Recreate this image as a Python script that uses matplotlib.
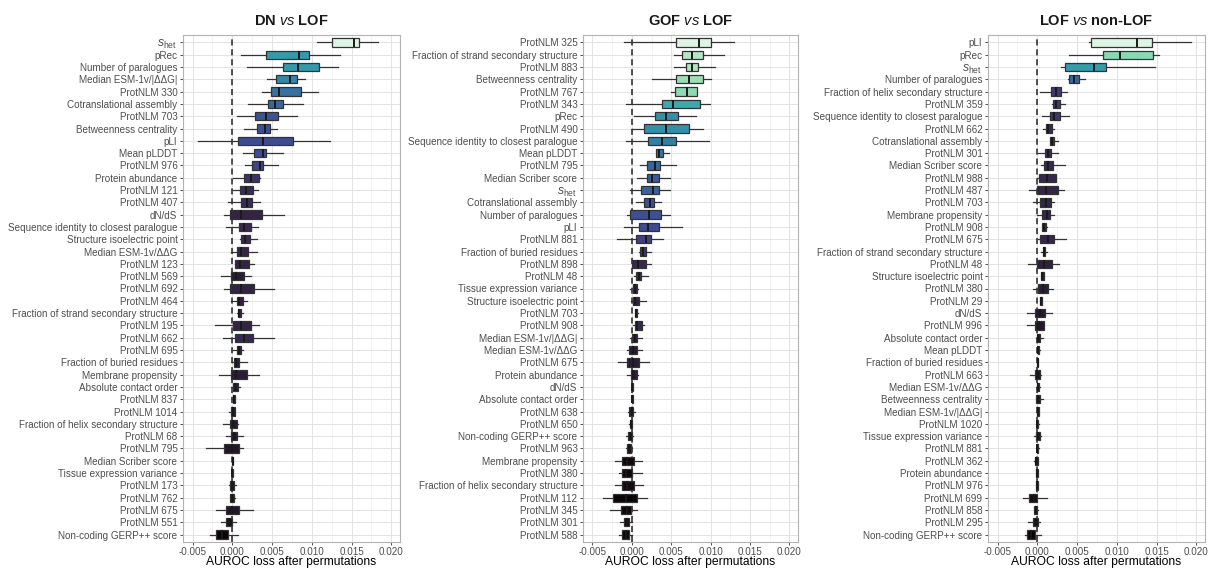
import matplotlib
matplotlib.use("Agg")
import matplotlib.pyplot as plt
import numpy as np
import seaborn as sns

plt.rcParams["font.family"] = ["Liberation Sans", "DejaVu Sans"]
plt.rcParams["mathtext.fontset"] = "custom"
plt.rcParams["mathtext.rm"] = "Liberation Sans"
plt.rcParams["mathtext.it"] = "Liberation Sans:italic"
plt.rcParams["mathtext.bf"] = "Liberation Sans:bold"
plt.rcParams["axes.unicode_minus"] = False

SHET = r"$s_{\mathrm{het}}$"

# values below are AUROC loss in units of 1e-3
# ---------------- DN vs LOF ----------------
labels_dn = [SHET, "pRec", "Number of paralogues", "Median ESM-1v/|ΔΔG|", "ProtNLM 330",
             "Cotranslational assembly", "ProtNLM 703", "Betweenness centrality", "pLI", "Mean pLDDT",
             "ProtNLM 976", "Protein abundance", "ProtNLM 121", "ProtNLM 407", "dN/dS",
             "Sequence identity to closest paralogue", "Structure isoelectric point", "Median ESM-1v/ΔΔG",
             "ProtNLM 123", "ProtNLM 569", "ProtNLM 692", "ProtNLM 464",
             "Fraction of strand secondary structure", "ProtNLM 195", "ProtNLM 662", "ProtNLM 695",
             "Fraction of buried residues", "Membrane propensity", "Absolute contact order", "ProtNLM 837",
             "ProtNLM 1014", "Fraction of helix secondary structure", "ProtNLM 68", "ProtNLM 795",
             "Median Scriber score", "Tissue expression variance", "ProtNLM 173", "ProtNLM 762",
             "ProtNLM 675", "ProtNLM 551", "Non-coding GERP++ score"]
dn_lo = [10.6, 1.1, 1.8, 4.4, 3.8, 2.0, 0.6, 1.5, -4.3, 1.35, 1.6, 0.1, 0.1, -0.5, -1.1, -0.8, 1.0, -0.2,
         0.3, -1.4, -1.1, -0.2, 0.6, -2.2, -1.2, 0.0, 0.0, -1.7, -0.1, 0.0, -0.45, -1.2, -0.8, -3.3,
         -0.05, -0.05, -0.4, -0.35, -2.0, -1.4, -2.85]
dn_q1 = [12.6, 4.3, 6.4, 5.55, 4.9, 4.45, 2.85, 3.05, 0.7, 2.7, 2.5, 1.5, 1.0, 1.15, -0.25, 0.8, 1.1, 0.65,
         0.35, -0.15, -0.3, 0.6, 0.7, 0.1, 0.35, 0.65, 0.25, -0.15, 0.1, 0.05, -0.1, -0.3, -0.15, -1.05,
         -0.02, -0.03, -0.3, -0.3, -0.8, -0.85, -2.1]
dn_med = [15.25, 8.4, 8.3, 7.2, 5.9, 5.4, 4.3, 4.1, 3.9, 3.9, 3.5, 2.3, 1.7, 1.8, 1.05, 1.5, 1.6, 1.15,
          1.0, 0.45, 1.05, 0.9, 0.9, 1.05, 1.5, 0.9, 0.5, 0.45, 0.35, 0.2, 0.1, 0.1, 0.2, 0.0,
          0.03, 0.0, 0.0, 0.0, 0.0, -0.45, -1.3]
dn_q3 = [16.0, 9.6, 10.9, 8.2, 8.7, 6.4, 5.8, 4.8, 7.6, 4.3, 3.9, 3.3, 2.6, 2.45, 3.8, 2.4, 2.2, 1.95,
         2.15, 1.5, 2.75, 1.35, 1.15, 2.3, 2.6, 1.15, 0.9, 1.85, 0.7, 0.35, 0.35, 0.55, 0.6, 0.85,
         0.08, 0.05, 0.2, 0.2, 0.85, 0.0, -0.6]
dn_hi = [18.3, 13.6, 13.3, 9.2, 10.8, 8.9, 8.1, 5.6, 12.3, 6.4, 5.8, 3.5, 3.2, 3.5, 6.5, 3.2, 3.05, 3.1,
         2.7, 2.3, 5.2, 1.8, 1.35, 3.4, 5.3, 1.4, 1.8, 3.3, 0.95, 0.4, 0.4, 0.7, 1.3, 1.4,
         0.12, 0.08, 0.45, 0.3, 2.6, 0.45, 0.7]

# ---------------- GOF vs LOF ----------------
labels_gof = ["ProtNLM 325", "Fraction of strand secondary structure", "ProtNLM 883", "Betweenness centrality",
              "ProtNLM 767", "ProtNLM 343", "pRec", "ProtNLM 490", "Sequence identity to closest paralogue",
              "Mean pLDDT", "ProtNLM 795", "Median Scriber score", SHET, "Cotranslational assembly",
              "Number of paralogues", "pLI", "ProtNLM 881", "Fraction of buried residues", "ProtNLM 898",
              "ProtNLM 48", "Tissue expression variance", "Structure isoelectric point", "ProtNLM 703",
              "ProtNLM 908", "Median ESM-1v/|ΔΔG|", "Median ESM-1v/ΔΔG", "ProtNLM 675", "Protein abundance",
              "dN/dS", "Absolute contact order", "ProtNLM 638", "ProtNLM 650", "Non-coding GERP++ score",
              "ProtNLM 963", "Membrane propensity", "ProtNLM 380", "Fraction of helix secondary structure",
              "ProtNLM 112", "ProtNLM 345", "ProtNLM 301", "ProtNLM 588"]
gof_lo = [-1.0, 5.35, 5.4, 2.5, 5.0, -0.75, 0.3, 0.05, -0.75, 3.1, 1.1, 0.6, -0.25, 0.55, -0.65, -1.0,
          -1.85, 0.9, 0.0, 0.3, -0.25, -0.15, 0.35, 0.2, -0.25, -0.6, -1.8, -0.6, -0.02, 0.0, -0.45,
          -0.3, -0.7, -0.7, -2.1, -1.6, -2.1, -3.7, -2.8, -1.55, -1.6]
gof_q1 = [5.55, 6.4, 6.9, 5.55, 5.5, 3.8, 3.0, 1.6, 2.1, 3.1, 1.95, 1.9, 1.2, 1.55, -0.25, 0.9,
          0.55, 1.1, 0.0, 0.5, 0.2, 0.15, 0.4, 0.35, 0.05, -0.3, -0.55, -0.1, 0.0, 0.02, -0.3,
          -0.25, -0.45, -0.55, -1.3, -1.25, -1.2, -2.35, -1.35, -0.95, -1.25]
gof_med = [8.5, 7.7, 7.6, 7.3, 7.05, 5.2, 4.3, 4.3, 3.8, 3.5, 2.9, 2.6, 2.75, 2.25, 2.2, 2.1,
           1.75, 1.4, 0.75, 0.85, 0.4, 0.45, 0.55, 0.7, 0.35, 0.1, 0.2, 0.2, 0.05, 0.08, 0.0,
           -0.15, -0.2, -0.35, -0.65, -0.7, -0.55, -0.8, -0.65, -0.65, -0.8]
gof_q3 = [10.1, 9.0, 8.45, 9.0, 8.3, 8.7, 5.8, 7.2, 5.65, 3.9, 3.55, 3.4, 3.4, 2.85, 3.75, 3.4,
          2.45, 1.75, 1.75, 1.2, 0.7, 0.9, 0.7, 1.35, 0.7, 0.65, 0.9, 0.7, 0.1, 0.12, 0.2,
          0.0, 0.05, -0.1, 0.25, 0.05, 0.3, 0.7, -0.1, -0.3, -0.3]
gof_hi = [13.0, 11.7, 10.6, 10.1, 8.3, 9.9, 8.1, 9.0, 9.8, 4.7, 5.65, 4.9, 4.9, 3.75, 4.8, 6.4,
          3.95, 2.4, 2.4, 2.0, 0.75, 1.75, 0.75, 1.5, 1.35, 1.25, 2.2, 0.8, 0.12, 0.15, 0.4,
          0.05, 0.2, 0.05, 1.25, 1.3, 1.4, 1.9, 0.65, 0.05, 0.05]

# ---------------- LOF vs non-LOF ----------------
labels_lof = ["pLI", "pRec", SHET, "Number of paralogues", "Fraction of helix secondary structure",
              "ProtNLM 359", "Sequence identity to closest paralogue", "ProtNLM 662", "Cotranslational assembly",
              "ProtNLM 301", "Median Scriber score", "ProtNLM 988", "ProtNLM 487", "ProtNLM 703",
              "Membrane propensity", "ProtNLM 908", "ProtNLM 675", "Fraction of strand secondary structure",
              "ProtNLM 48", "Structure isoelectric point", "ProtNLM 380", "ProtNLM 29", "dN/dS",
              "ProtNLM 996", "Absolute contact order", "Mean pLDDT", "Fraction of buried residues",
              "ProtNLM 663", "Median ESM-1v/ΔΔG", "Betweenness centrality", "Median ESM-1v/|ΔΔG|",
              "ProtNLM 1020", "Tissue expression variance", "ProtNLM 881", "ProtNLM 362", "Protein abundance",
              "ProtNLM 976", "ProtNLM 699", "ProtNLM 858", "ProtNLM 295", "Non-coding GERP++ score"]
lof_lo = [6.5, 4.05, 3.0, 3.9, 0.3, 1.9, 0.65, 0.75, 1.55, 0.1, 0.45, 0.0, -1.0, -0.5, 0.0, 0.6,
          0.1, 0.5, -1.2, 0.45, -0.55, 0.35, -1.25, -1.35, -0.1, 0.0, -0.05, -0.95, -0.1, -0.1,
          -0.1, -0.1, -0.45, -0.1, -0.4, -0.15, -0.15, -1.75, -0.45, -1.2, -1.6]
lof_q1 = [6.7, 8.25, 3.5, 4.0, 1.75, 2.0, 1.55, 1.05, 1.55, 1.0, 0.85, 0.2, -0.05, 0.4, 0.6, 0.65,
          0.4, 0.7, 0.0, 0.5, 0.15, 0.35, -0.25, -0.3, 0.0, 0.03, 0.0, -0.3, -0.05, -0.1,
          -0.08, -0.08, -0.15, -0.08, -0.25, -0.1, -0.1, -1.0, -0.4, -0.55, -1.25]
lof_med = [12.6, 10.45, 7.15, 4.65, 2.4, 2.4, 2.15, 1.4, 1.8, 1.3, 1.4, 1.25, 1.15, 1.1, 1.2, 0.9,
           1.3, 0.85, 0.85, 0.65, 0.75, 0.45, 0.35, 0.25, 0.15, 0.1, 0.03, 0.0, 0.1, 0.1,
           0.05, 0.0, 0.05, 0.0, -0.1, 0.0, 0.0, -0.4, -0.15, -0.2, -0.85]
lof_q3 = [14.4, 14.6, 8.65, 5.2, 3.0, 2.9, 2.8, 1.85, 2.05, 1.75, 2.0, 2.3, 2.55, 1.7, 1.6, 1.15,
          2.1, 1.0, 1.8, 0.85, 1.35, 0.6, 0.95, 0.85, 0.4, 0.25, 0.06, 0.4, 0.25, 0.35,
          0.2, 0.15, 0.3, 0.12, 0.1, 0.1, 0.1, 0.0, 0.0, 0.1, -0.3]
lof_hi = [19.4, 15.25, 14.8, 6.0, 3.8, 3.5, 4.0, 2.05, 2.65, 2.6, 3.5, 2.4, 3.35, 2.1, 2.1, 1.25,
          3.6, 1.2, 2.75, 0.9, 2.0, 0.6, 1.85, 0.9, 0.7, 0.35, 0.09, 0.45, 0.35, 0.7,
          0.25, 0.18, 0.45, 0.18, 0.15, 0.15, 0.15, 1.25, 0.15, 0.4, 0.45]

titles = [r"DN $\it{vs}$ LOF", r"GOF $\it{vs}$ LOF", r"LOF $\it{vs}$ non-LOF"]
panels = [
    (labels_dn, dn_lo, dn_q1, dn_med, dn_q3, dn_hi),
    (labels_gof, gof_lo, gof_q1, gof_med, gof_q3, gof_hi),
    (labels_lof, lof_lo, lof_q1, lof_med, lof_q3, lof_hi),
]

cmap = sns.color_palette("mako", as_cmap=True)

W, H = 1211, 569
fig = plt.figure(figsize=(W / 100, H / 100), dpi=100)
boxes_px = [(183, 217), (583, 215), (988, 217)]
bottom, top = 542, 35

for (left, width), title, (labels, lo, q1, med, q3, hi) in zip(boxes_px, titles, panels):
    ax = fig.add_axes([left / W, 1 - bottom / H, width / W, (bottom - top) / H])
    n = len(labels)
    scale = 1e-3
    stats = []
    for i in range(n):
        stats.append(dict(whislo=lo[i] * scale, q1=q1[i] * scale, med=med[i] * scale,
                          q3=q3[i] * scale, whishi=hi[i] * scale, fliers=[]))
    med_arr = np.array(med)
    norm = (med_arr - med_arr.min()) / (med_arr.max() - med_arr.min())
    norm = norm ** 0.92

    ax.axvline(0, color="#222222", ls=(0, (4, 2.5)), lw=1.1, zorder=1.5)
    bp = ax.bxp(stats, positions=np.arange(n), orientation="horizontal", widths=0.68,
                patch_artist=True, showcaps=False, showfliers=False,
                boxprops=dict(edgecolor="#333333", linewidth=0.9),
                whiskerprops=dict(color="#333333", linewidth=0.9),
                medianprops=dict(color="#1a1a1a", linewidth=1.4),
                zorder=3)
    for patch, v in zip(bp["boxes"], norm):
        patch.set_facecolor(cmap(v))

    ax.set_ylim(n - 0.4, -0.6)
    ax.set_yticks(np.arange(n))
    ax.set_yticklabels(labels)
    ax.set_xlim(-0.0062, 0.0211)
    xt = [-0.005, 0.0, 0.005, 0.010, 0.015, 0.020]
    ax.set_xticks(xt)
    ax.set_xticklabels([f"{v:.3f}" for v in xt])
    ax.set_xticks([-0.0025, 0.0025, 0.0075, 0.0125, 0.0175], minor=True)
    ax.grid(which="major", color="#E3E3E3", lw=0.7, zorder=0)
    ax.grid(which="minor", axis="x", color="#EEEEEE", lw=0.5, zorder=0)
    ax.set_axisbelow(True)
    ax.tick_params(which="major", length=2.5, width=0.6, color="#333333",
                   labelcolor="#4D4D4D", labelsize=7.1, pad=1.5)
    ax.tick_params(axis="x", which="major", pad=1.2)
    ax.tick_params(which="minor", length=0)
    # s_het is drawn a bit larger in the original
    for lab in ax.get_yticklabels():
        if lab.get_text() == SHET:
            lab.set_fontsize(8.8)
    for s in ax.spines.values():
        s.set_color("#B3B3B3")
        s.set_linewidth(0.8)
    ax.set_title(title, fontsize=10.5, fontweight="bold", color="#1a1a1a", pad=7)
    ax.set_xlabel("AUROC loss after permutations", fontsize=8.7, color="black", labelpad=-0.5)

fig.savefig("out.png", dpi=100)
